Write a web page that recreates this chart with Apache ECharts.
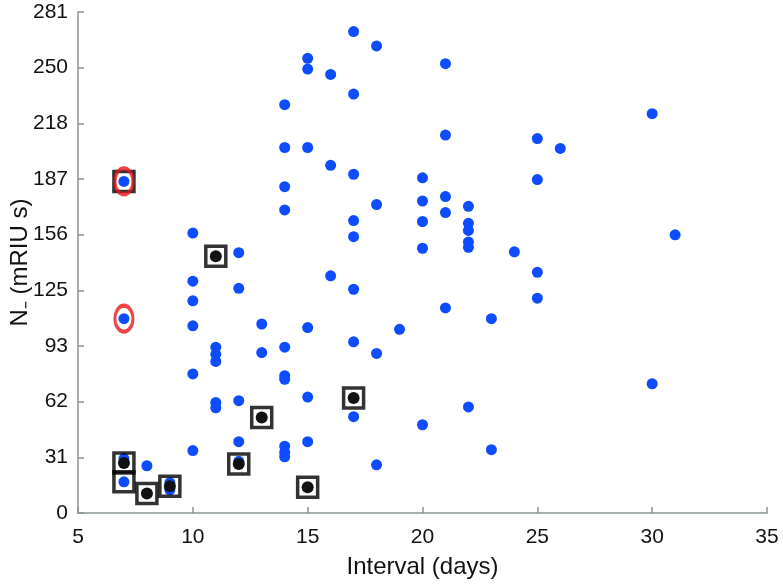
<!DOCTYPE html>
<html>
<head>
<meta charset="utf-8">
<script src="https://cdn.jsdelivr.net/npm/echarts@6/dist/echarts.min.js"></script>
<style>
  html, body { margin: 0; padding: 0; background: #fff; }
  #chart { width: 783px; height: 585px; }
</style>
</head>
<body>
<div id="chart"></div>
<script>
// all measurements: [interval in days, N (mRIU s)]
const bluePoints = [
  [7, 186], [7, 109], [7, 30.5], [7, 17.5],
  [8, 26.5],
  [9, 17], [9, 13],
  [10, 157], [10, 130], [10, 119], [10, 105], [10, 78], [10, 35],
  [11, 93], [11, 89], [11, 85], [11, 62], [11, 59],
  [12, 146], [12, 126], [12, 63], [12, 40], [12, 29],
  [13, 106], [13, 90],
  [14, 229], [14, 205], [14, 183], [14, 170], [14, 93], [14, 77], [14, 75], [14, 37.5], [14, 34], [14, 31.5],
  [15, 255], [15, 249], [15, 205], [15, 104], [15, 65], [15, 40],
  [16, 246], [16, 195], [16, 133],
  [17, 270], [17, 235], [17, 190], [17, 164], [17, 155], [17, 125.5], [17, 96], [17, 54],
  [18, 262], [18, 173], [18, 89.5], [18, 27],
  [19, 103],
  [20, 188], [20, 175], [20, 163.5], [20, 148.5], [20, 49.5],
  [21, 252], [21, 212], [21, 177.5], [21, 168.5], [21, 115],
  [22, 172], [22, 162.5], [22, 158.5], [22, 152], [22, 149], [22, 59.5],
  [23, 109], [23, 35.5],
  [24, 146.5],
  [25, 210], [25, 187], [25, 135], [25, 120.5],
  [26, 204.5],
  [30, 224], [30, 72.5],
  [31, 156]
];
// highlighted (black) points
const blackPoints = [[7, 28], [8, 11], [9, 15], [11, 144], [12, 27.5], [13, 53.5], [15, 14.5], [17, 64.5]];
// boxed points
const boxedPoints = [[7, 186], [7, 17.5], [7, 28], [8, 11], [9, 15], [11, 144], [12, 27.5], [13, 53.5], [15, 14.5], [17, 64.5]];
// circled points
const circledPoints = [[7, 186], [7, 109]];

// y ticks are 9 equal steps up to 281, labelled as in the original
const yMax = 281;
const yTickLabels = ['0', '31', '62', '93', '125', '156', '187', '218', '250', '281'];
const yStep = yMax / (yTickLabels.length - 1);

const axisGrey = '#8a9494';
const chart = echarts.init(document.getElementById('chart'));
chart.setOption({
  animation: false,
  grid: { left: 78, right: 16, top: 12, bottom: 72, outerBoundsMode: 'none', containLabel: false },
  xAxis: {
    type: 'value', min: 5, max: 35, interval: 5,
    name: 'Interval (days)', nameLocation: 'middle', nameGap: 42,
    nameTextStyle: { fontFamily: 'Liberation Sans', fontSize: 24, color: '#111' },
    axisLine: { show: true, lineStyle: { color: axisGrey, width: 1.5 } },
    axisTick: { show: true, inside: true, length: 6, lineStyle: { color: axisGrey, width: 1.5 } },
    axisLabel: { fontFamily: 'Liberation Sans', fontSize: 21, color: '#111', margin: 14 },
    splitLine: { show: false }
  },
  yAxis: {
    type: 'value', min: 0, max: yMax, interval: yStep,
    name: 'N₋ (mRIU s)', nameLocation: 'middle', nameGap: 46, nameRotate: 90,
    nameMoveOverlap: false,
    nameTextStyle: { fontFamily: 'Liberation Sans', fontSize: 24, color: '#111' },
    axisLine: { show: true, lineStyle: { color: axisGrey, width: 1.5 } },
    axisTick: { show: true, inside: true, length: 6, lineStyle: { color: axisGrey, width: 1.5 } },
    axisLabel: {
      fontFamily: 'Liberation Sans', fontSize: 21, color: '#111', margin: 10,
      formatter: v => yTickLabels[Math.round(v / yStep)]
    },
    splitLine: { show: false }
  },
  series: [
    {
      type: 'scatter', data: bluePoints, symbolSize: 11,
      itemStyle: { color: '#0d4cff', opacity: 1 }
    },
    {
      type: 'scatter', data: boxedPoints, symbol: 'rect', symbolSize: 20,
      itemStyle: { color: 'rgba(0,0,0,0)', borderColor: '#000', borderWidth: 3.5 }
    },
    {
      type: 'scatter', data: blackPoints, symbolSize: 12,
      itemStyle: { color: '#111', opacity: 1 }
    },
    {
      type: 'scatter', data: circledPoints,
      symbol: 'path://M0,50A50,50 0 1 1 100,50A50,50 0 1 1 0,50Z',
      symbolSize: [18, 26],
      itemStyle: { color: 'rgba(0,0,0,0)', borderColor: '#e8141c', borderWidth: 3.5 }
    }
  ]
});
</script>
</body>
</html>
